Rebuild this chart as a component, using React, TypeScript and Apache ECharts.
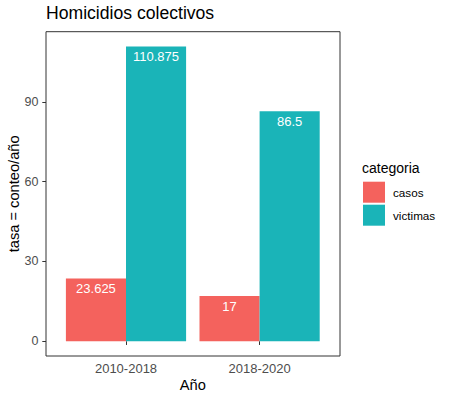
import React, { useEffect, useRef } from "react";
import * as echarts from "echarts";

const categories = ["2010-2018", "2018-2020"];
const seriesNames = ["casos", "victimas"];
const casosValues = [23.625, 17];
const victimasValues = [110.875, 86.5];
const yTicks = [0, 30, 60, 90];
const colors = ["#F4625D", "#1AB4B8"];

const FONT = "Liberation Sans, Arial, Helvetica, sans-serif";

export default function App() {
  const ref = useRef<HTMLDivElement>(null);

  useEffect(() => {
    document.body.style.margin = "0";
    const chart = echarts.init(ref.current!, null, { renderer: "svg" });
    const maxV = Math.max(...casosValues, ...victimasValues);
    const minV = 0;
    const span = maxV - minV;
    const yMin = minV - span * 0.05;
    const yMax = maxV + span * 0.05;
    const barLabel = {
      show: true,
      position: "insideTop",
      distance: 4,
      color: "#ffffff",
      fontSize: 13,
      fontFamily: FONT,
    };
    chart.setOption({
      animation: false,
      textStyle: { fontFamily: FONT },
      title: [
        {
          text: "Homicidios colectivos",
          left: 46,
          top: 4,
          padding: 0,
          textStyle: { fontSize: 17.6, fontWeight: "normal", color: "#000", fontFamily: FONT },
        },
        {
          text: "categoria",
          left: 362,
          top: 161,
          padding: 0,
          textStyle: { fontSize: 14, fontWeight: "normal", color: "#000", fontFamily: FONT },
        },
      ],
      legend: {
        orient: "vertical",
        left: 363,
        top: 181.7,
        padding: 0,
        itemWidth: 22,
        itemHeight: 21,
        itemGap: 2,
        icon: "rect",
        data: seriesNames,
        textStyle: { fontSize: 11.7, color: "#000", fontFamily: FONT, padding: [0, 0, 0, 3] },
      },
      graphic: [
        {
          type: "rect",
          shape: { x: 46, y: 31.7, width: 294, height: 324.3 },
          style: { fill: "none", stroke: "#333333", lineWidth: 1 },
          z: 10,
        },
      ],
      grid: [
        {
          left: 59.2,
          right: 123.6,
          top: 31.7,
          bottom: 44,
          containLabel: false,
          outerBoundsMode: "none",
        },
        {
          left: 46,
          right: 110,
          top: 31.7,
          bottom: 44,
          containLabel: false,
          outerBoundsMode: "none",
        },
      ],
      xAxis: [
        {
          gridIndex: 0,
          type: "category",
          data: categories,
          axisLine: { show: false },
          axisTick: { show: true, alignWithLabel: true, length: 3.7, lineStyle: { color: "#333333" } },
          axisLabel: { color: "#4D4D4D", fontSize: 13, margin: 6, fontFamily: FONT },
          name: "Año",
          nameLocation: "middle",
          nameGap: 21,
          nameMoveOverlap: false,
          nameTextStyle: { fontSize: 14.67, color: "#000", fontFamily: FONT },
        },
        { gridIndex: 1, type: "value", min: 0, max: 1, show: false },
      ],
      yAxis: [
        {
          gridIndex: 0,
          type: "value",
          min: yMin,
          max: yMax,
          show: false,
          splitLine: { show: false },
        },
        {
          gridIndex: 1,
          type: "value",
          min: yMin,
          max: yMax,
          splitLine: { show: false },
          axisLine: { show: false },
          axisTick: { show: true, length: 3.7, customValues: yTicks, lineStyle: { color: "#333333" } },
          axisLabel: { customValues: yTicks, color: "#4D4D4D", fontSize: 12.5, margin: 7.5, fontFamily: FONT },
          name: "tasa = conteo/año",
          nameLocation: "middle",
          nameRotate: 90,
          nameGap: 25,
          nameMoveOverlap: false,
          nameTextStyle: { fontSize: 14.67, color: "#000", fontFamily: FONT },
        },
      ],
      series: [
        {
          name: seriesNames[0],
          type: "bar",
          xAxisIndex: 0,
          yAxisIndex: 0,
          data: casosValues,
          barWidth: 60.1,
          barGap: "0%",
          itemStyle: { color: colors[0] },
          label: barLabel,
        },
        {
          name: seriesNames[1],
          type: "bar",
          xAxisIndex: 0,
          yAxisIndex: 0,
          data: victimasValues,
          barWidth: 60.1,
          barGap: "0%",
          itemStyle: { color: colors[1] },
          label: barLabel,
        },
      ],
    });
    return () => chart.dispose();
  }, []);

  return <div ref={ref} style={{ width: 450, height: 400 }} />;
}
